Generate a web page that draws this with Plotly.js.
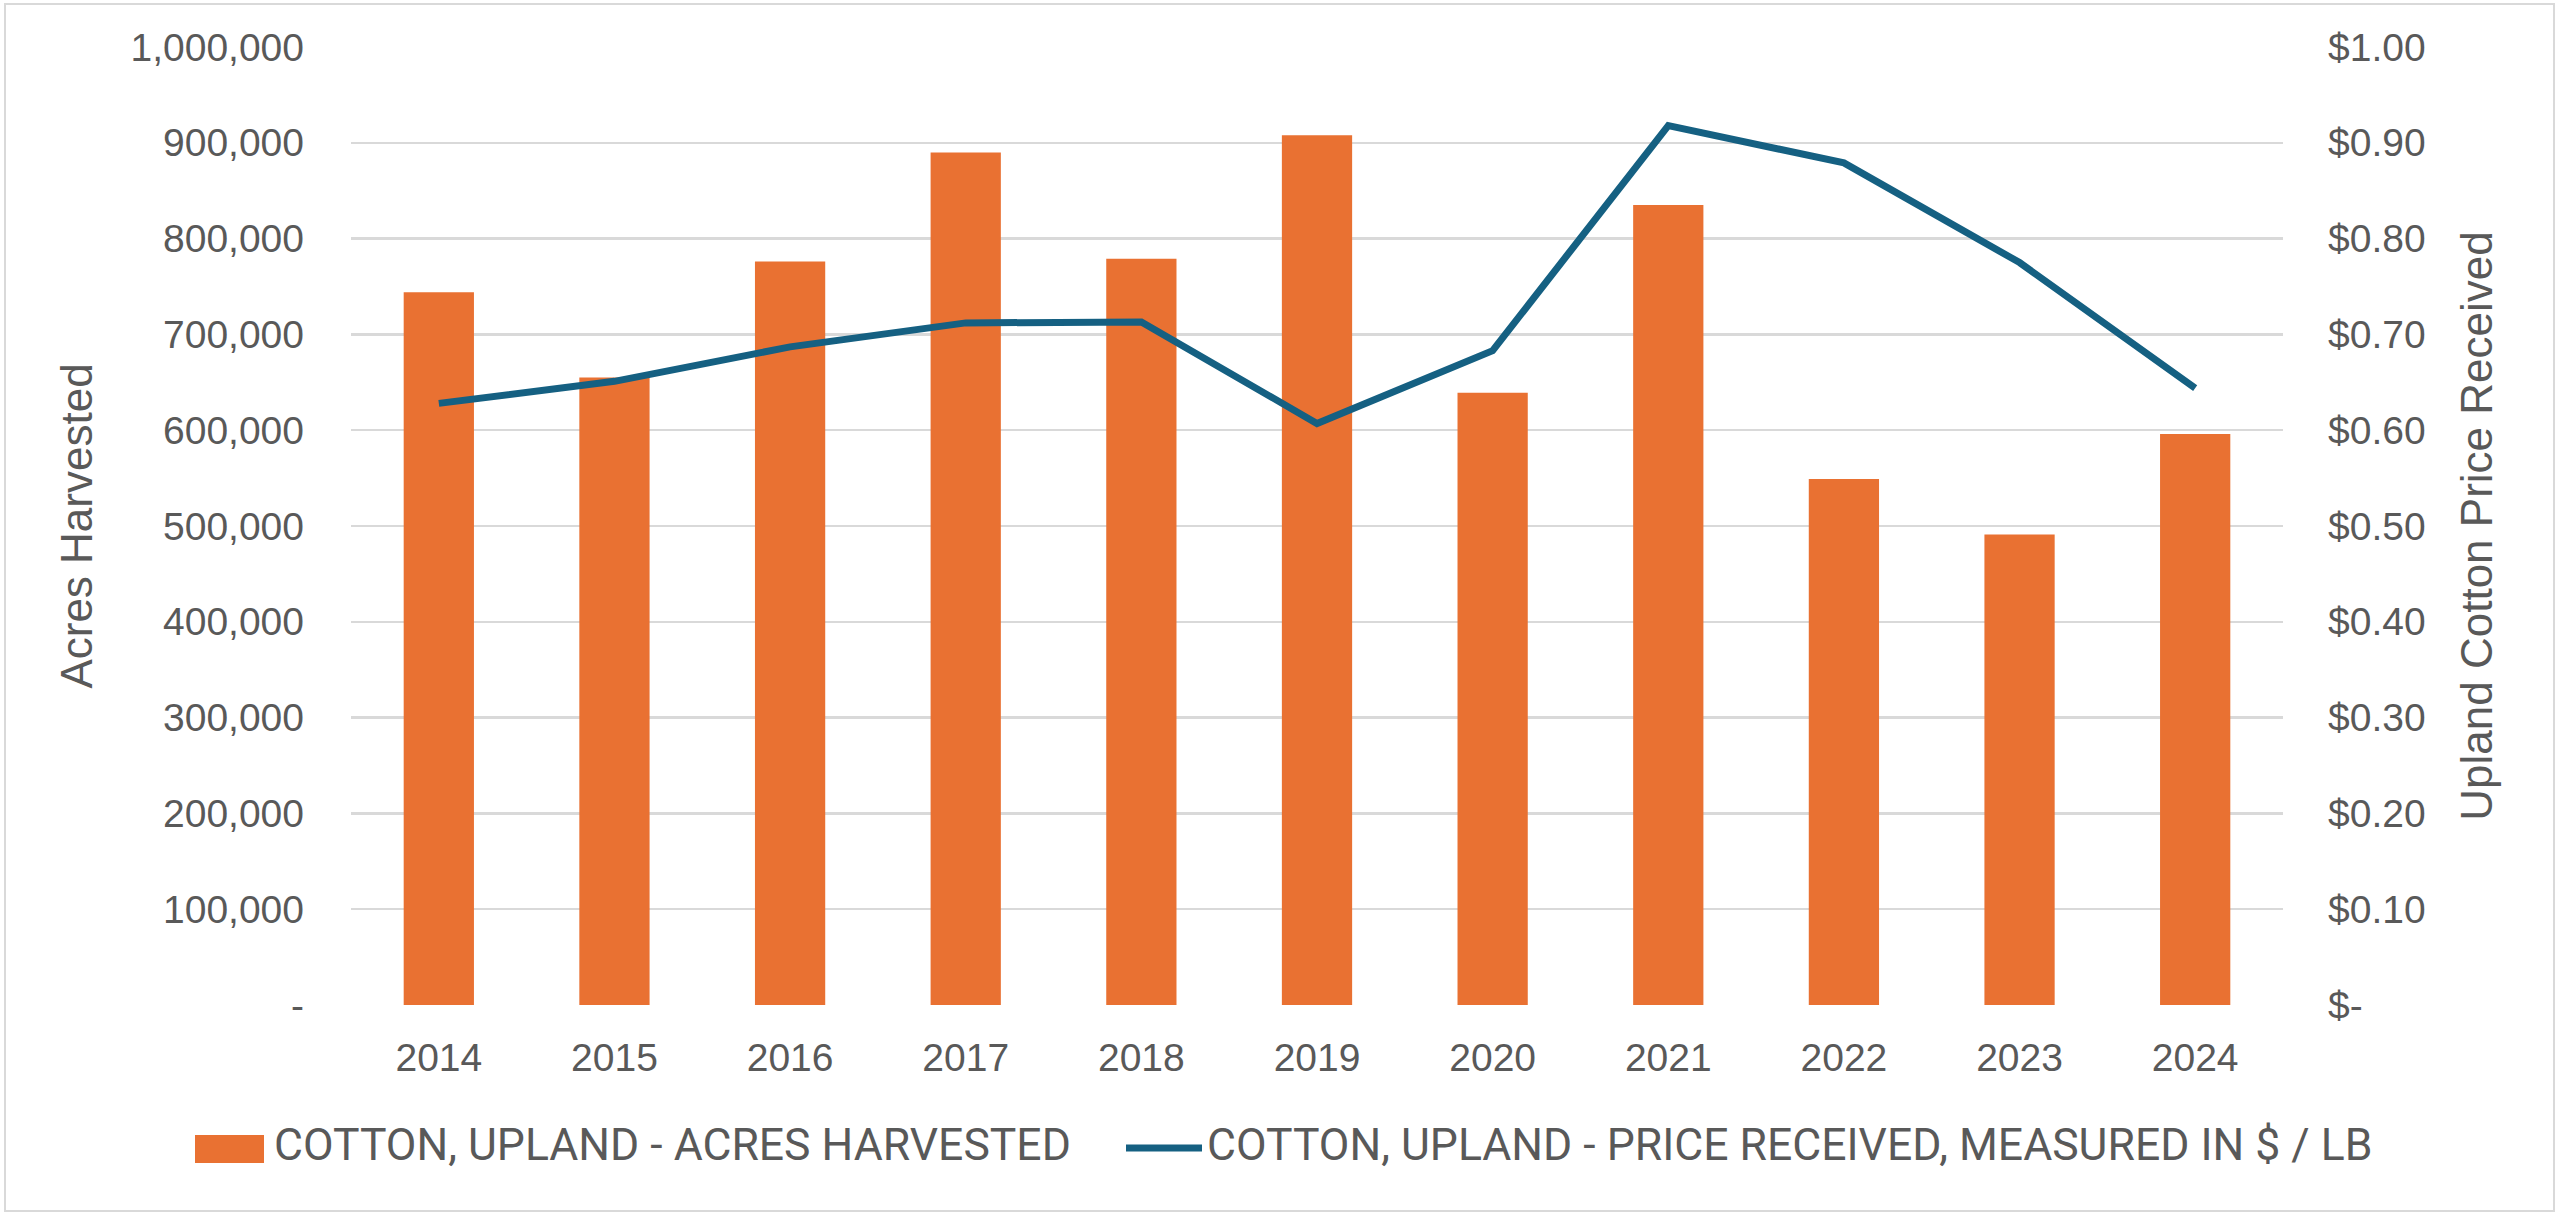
<!DOCTYPE html>
<html>
<head>
<meta charset="utf-8">
<script src="https://cdn.plot.ly/plotly-3.0.1.min.js"></script>
<style>
  body { margin: 0; background: #ffffff; }
  #myDiv { position: absolute; left: 0; top: 0; width: 2560px; height: 1217px; }
  #frame { position: absolute; left: 4px; top: 3px; width: 2547px; height: 1205px;
           border: 2px solid #d9d9d9; pointer-events: none; }
</style>
</head>
<body>
<div id="myDiv"></div>
<div id="frame"></div>
<script>
// values
var years = ['2014', '2015', '2016', '2017', '2018', '2019', '2020', '2021', '2022', '2023', '2024'];
var acresHarvested = [744000, 655000, 776000, 890000, 779000, 908000, 639000, 835000, 549000, 491000, 596000];
var priceReceived = [0.628, 0.651, 0.687, 0.712, 0.713, 0.607, 0.683, 0.918, 0.879, 0.775, 0.644];

var acresTicks = [0, 100000, 200000, 300000, 400000, 500000, 600000, 700000, 800000, 900000, 1000000];
var acresTickText = ['-', '100,000', '200,000', '300,000', '400,000', '500,000', '600,000', '700,000', '800,000', '900,000', '1,000,000'];
var priceTicks = [0, 0.1, 0.2, 0.3, 0.4, 0.5, 0.6, 0.7, 0.8, 0.9, 1.0];
var priceTickText = ['$-', '$0.10', '$0.20', '$0.30', '$0.40', '$0.50', '$0.60', '$0.70', '$0.80', '$0.90', '$1.00'];

var barName = 'COTTON, UPLAND - ACRES HARVESTED';
var lineName = 'COTTON, UPLAND - PRICE RECEIVED, MEASURED IN $ / LB';

var orange = '#E97132';
var blue = '#156082';
var grey = '#595959';

// plot area in page pixels
var W = 2560, H = 1217;
var L = 351, R = 2283, T = 47, B = 1005;
function px(x) { return (x - L) / (R - L); }
function py(y) { return (B - y) / (B - T); }

function drawChart() {
    var bars = {
        x: years,
        y: acresHarvested,
        name: barName,
        type: 'bar',
        marker: { color: orange },
        yaxis: 'y'
    };

    var line = {
        x: years,
        y: priceReceived,
        name: lineName,
        type: 'scatter',
        mode: 'lines',
        line: { color: blue, width: 7 },
        yaxis: 'y2'
    };

    var tickFont = { family: 'Liberation Sans, Arial, sans-serif', size: 39, color: grey };
    var titleFont = { family: 'Liberation Sans, Arial, sans-serif', size: 44, color: grey };
    var legendFont = { family: 'Roboto, Liberation Sans, sans-serif', size: 44.5, color: grey };

    var layout = {
        width: W,
        height: H,
        margin: { l: L, r: W - R, t: T, b: H - B, pad: 0 },
        paper_bgcolor: '#ffffff',
        plot_bgcolor: '#ffffff',
        showlegend: false,
        bargap: 0.6,
        xaxis: {
            type: 'category',
            tickfont: tickFont,
            ticks: '',
            ticklabelstandoff: 26,
            showgrid: false,
            zeroline: false,
            showline: false
        },
        yaxis: {
            range: [0, 1000000],
            tickvals: acresTicks,
            ticktext: acresTickText,
            tickfont: tickFont,
            ticks: '',
            ticklabelstandoff: 46,
            showgrid: true,
            gridcolor: '#d9d9d9',
            gridwidth: 2.5,
            zeroline: false,
            showline: false,
            title: { text: 'Acres Harvested', font: titleFont, standoff: 24 }
        },
        yaxis2: {
            range: [0, 1],
            overlaying: 'y',
            side: 'right',
            tickvals: priceTicks,
            ticktext: priceTickText,
            tickfont: tickFont,
            ticks: '',
            ticklabelstandoff: 44,
            showgrid: false,
            zeroline: false,
            showline: false,
            title: { text: 'Upland Cotton Price Received', font: titleFont, standoff: 36 }
        },
        shapes: [
            {
                type: 'rect', xref: 'paper', yref: 'paper',
                x0: px(195), x1: px(264), y0: py(1163), y1: py(1135),
                fillcolor: orange, line: { width: 0 }
            },
            {
                type: 'line', xref: 'paper', yref: 'paper',
                x0: px(1126), x1: px(1202), y0: py(1148), y1: py(1148),
                line: { color: blue, width: 7 }
            }
        ],
        annotations: [
            {
                text: barName, xref: 'paper', yref: 'paper',
                x: px(272), y: py(1145), xanchor: 'left', yanchor: 'middle',
                showarrow: false, font: legendFont
            },
            {
                text: lineName, xref: 'paper', yref: 'paper',
                x: px(1205), y: py(1145), xanchor: 'left', yanchor: 'middle',
                showarrow: false, font: legendFont
            }
        ]
    };

    Plotly.newPlot('myDiv', [bars, line], layout, { staticPlot: true });
}

drawChart();
</script>
</body>
</html>
